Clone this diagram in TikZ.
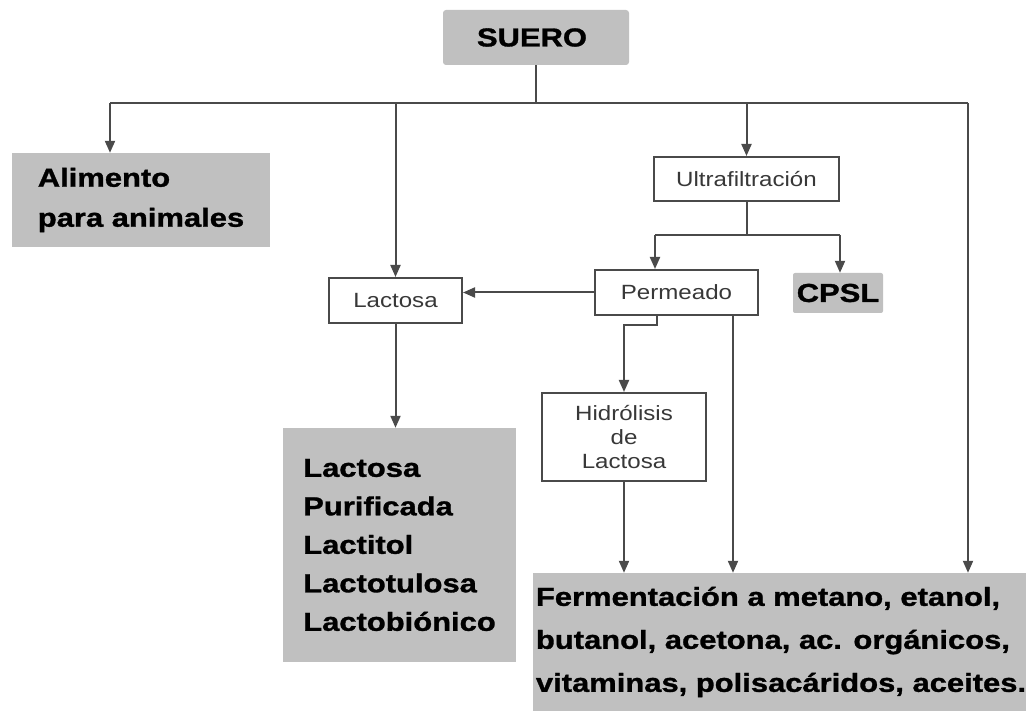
\documentclass[tikz,border=0pt]{standalone}
\usepackage{fontspec}
\setmainfont{Liberation Sans}[FakeStretch=1.17]
\newfontfamily\gruesa{Liberation Sans}[FakeStretch=1.19,BoldFeatures={FakeBold=1.2}]
\usetikzlibrary{arrows.meta}
\definecolor{grisbox}{HTML}{C0C0C0}
\definecolor{trazo}{HTML}{4A4A4A}
\definecolor{texto}{HTML}{383838}
\tikzset{
  gris/.style={fill=grisbox,draw=none,inner sep=0pt,align=left,font=\gruesa\fontsize{26}{40}\selectfont\bfseries},
  caja/.style={draw=trazo,line width=2pt,fill=white,inner sep=0pt,align=center,text=texto,font=\fontsize{20.6}{24}\selectfont},
  tramo/.style={draw=trazo,line width=2pt},
  flecha/.style={tramo,-{Triangle[length=12pt,width=10pt]}}
}
\begin{document}
\begin{tikzpicture}[x=1pt,y=-1pt]
\clip (0,0) rectangle (1026,711);
\fill[white] (0,0) rectangle (1026,711);

% Cajas
\node[gris,rounded corners=3pt,minimum width=186pt,minimum height=55pt] (suero) at (536,37.5) {SUERO\hspace{8pt}};
\node[gris,minimum width=258pt,minimum height=94pt] (alim) at (141,200) {Alimento\\para animales\hspace{10pt}};
\node[caja,minimum width=133pt,minimum height=45pt] (lact) at (395.5,300.5) {Lactosa};
\node[caja,minimum width=185pt,minimum height=44pt] (ultra) at (746.5,179) {Ultrafiltración};
\node[caja,minimum width=163pt,minimum height=45pt] (perm) at (676.5,292.5) {Permeado};
\node[gris,rounded corners=2pt,minimum width=90pt,minimum height=40pt] (cpsl) at (838,293) {CPSL};
\node[caja,minimum width=164pt,minimum height=88pt] (hidro) at (624,437) {Hidrólisis\\de\\Lactosa};
\node[gris,minimum width=233pt,minimum height=234pt,font=\gruesa\fontsize{26}{38.5}\selectfont\bfseries] (lista) at (399.5,545) {Lactosa\\Purificada\\Lactitol\\Lactotulosa\\Lactobiónico};
\node[gris,minimum width=496pt,minimum height=138pt,font=\gruesa\fontsize{26}{43}\selectfont\bfseries] (ferm) at (781,642) {Fermentación a metano, etanol,\\butanol, acetona, ac. orgánicos,\\vitaminas, polisacáridos, aceites.};

% Distribuidor superior
\coordinate (bus) at (0,103);
\coordinate (busL) at (110,103);
\coordinate (busR) at (968,103);
\draw[tramo] (suero.south) -- (suero.south |- bus);
\draw[tramo] (busL) -- (busR);
\draw[flecha] (busL) -- (busL |- alim.north);
\draw[flecha] (lact.north |- bus) -- (lact.north);
\draw[flecha] (ultra.north |- bus) -- (ultra.north);
\draw[flecha] (busR) -- (busR |- ferm.north);

% Ultrafiltración
\coordinate (splitL) at (655,235);
\coordinate (splitR) at (840,235);
\draw[tramo] (ultra.south) -- (ultra.south |- splitL);
\draw[tramo] (splitL) -- (splitR);
\draw[flecha] (splitL) -- (splitL |- perm.north);
\draw[flecha] (splitR) -- (splitR |- cpsl.north);

% Permeado
\coordinate (codo) at (657,325);
\draw[flecha] (perm.west) -- (perm.west -| lact.east);
\draw[flecha] (codo |- perm.south) -- (codo) -| (hidro.north);
\draw[flecha] ([xshift=56.5pt]perm.south) -- ([xshift=56.5pt]perm.south |- ferm.north);
\draw[flecha] (hidro.south) -- (hidro.south |- ferm.north);
\draw[flecha] (lact.south) -- (lact.south |- lista.north);

\end{tikzpicture}
\end{document}
